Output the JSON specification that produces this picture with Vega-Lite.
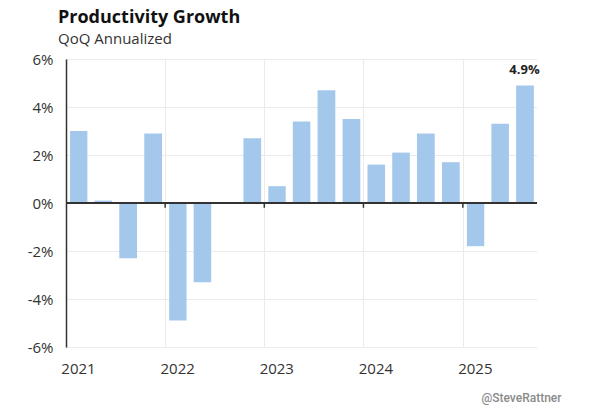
{
  "$schema": "https://vega.github.io/schema/vega-lite/v6.json",
  "width": 471,
  "height": 288,
  "autosize": {"type": "none"},
  "padding": {"left": 66, "top": 59, "right": 64, "bottom": 65},
  "background": "white",
  "title": {
    "text": "Productivity Growth",
    "subtitle": "QoQ Annualized",
    "anchor": "start",
    "frame": "group",
    "dx": -8,
    "offset": 5,
    "font": "Open Sans",
    "fontSize": 18,
    "fontWeight": "bold",
    "color": "#111111",
    "subtitleFont": "Open Sans",
    "subtitleFontSize": 15,
    "subtitleColor": "#333333",
    "subtitlePadding": 5
  },
  "config": {
    "view": {"stroke": null},
    "axis": {"labelFont": "Open Sans", "labelFontSize": 15, "labelColor": "#333333"}
  },
  "datasets": {
    "quarters": [
      {"date": "2021-02-15", "value": 3.0},
      {"date": "2021-05-15", "value": 0.1},
      {"date": "2021-08-15", "value": -2.3},
      {"date": "2021-11-15", "value": 2.9},
      {"date": "2022-02-15", "value": -4.9},
      {"date": "2022-05-15", "value": -3.3},
      {"date": "2022-08-15", "value": 0.0},
      {"date": "2022-11-15", "value": 2.7},
      {"date": "2023-02-15", "value": 0.7},
      {"date": "2023-05-15", "value": 3.4},
      {"date": "2023-08-15", "value": 4.7},
      {"date": "2023-11-15", "value": 3.5},
      {"date": "2024-02-15", "value": 1.6},
      {"date": "2024-05-15", "value": 2.1},
      {"date": "2024-08-15", "value": 2.9},
      {"date": "2024-11-15", "value": 1.7},
      {"date": "2025-02-15", "value": -1.8},
      {"date": "2025-05-15", "value": 3.3},
      {"date": "2025-08-15", "value": 4.9}
    ],
    "years": [
      {"date": "2022-02-15"},
      {"date": "2023-02-15"},
      {"date": "2024-02-15"},
      {"date": "2025-02-15"}
    ]
  },
  "data": {"name": "quarters"},
  "layer": [
    {
      "mark": {"type": "bar", "color": "#a3c8eb", "width": {"band": 0.75}},
      "encoding": {
        "x": {
          "field": "date",
          "type": "temporal",
          "timeUnit": "yearquarter",
          "bandPosition": 0.5,
          "scale": {"domain": [{"year": 2021, "month": 1, "date": 1}, {"year": 2025, "month": 10, "date": 1}]},
          "axis": {
            "format": "%Y",
            "tickCount": {"interval": "year", "step": 1},
            "grid": true,
            "gridColor": "#ebebeb",
            "domain": false,
            "ticks": false,
            "labelFlush": false,
            "labelAlign": "center",
            "labelOffset": 12,
            "labelPadding": 14,
            "title": "@SteveRattner",
            "titleFont": "Roboto",
            "titleFontSize": 12,
            "titleFontWeight": 500,
            "titleColor": "#8a8a8a",
            "titleX": 495,
            "titleY": 54,
            "titleAlign": "right",
            "titleBaseline": "alphabetic"
          }
        },
        "y": {
          "field": "value",
          "type": "quantitative",
          "scale": {"domain": [-6, 6], "nice": false},
          "axis": {
            "values": [-6, -4, -2, 0, 2, 4, 6],
            "labelExpr": "datum.value + '%'",
            "title": null,
            "grid": true,
            "gridColor": "#ebebeb",
            "ticks": false,
            "domain": true,
            "domainColor": "#333333",
            "domainWidth": 1.5,
            "labelPadding": 13
          }
        }
      }
    },
    {
      "mark": {"type": "text", "font": "Open Sans", "fontWeight": "bold", "fontSize": 13, "color": "#222222", "baseline": "bottom", "dy": -8},
      "transform": [
        {"filter": "datum.value == 4.9"},
        {"calculate": "format(datum.value, '.1f') + '%'", "as": "label"}
      ],
      "encoding": {
        "x": {"field": "date", "type": "temporal", "timeUnit": "yearquarter", "bandPosition": 0.5},
        "y": {"field": "value", "type": "quantitative"},
        "text": {"field": "label", "type": "nominal"}
      }
    },
    {
      "mark": {"type": "rule", "color": "#333333", "strokeWidth": 1.5},
      "encoding": {"y": {"datum": 0}}
    },
    {
      "data": {"name": "years"},
      "mark": {"type": "rule", "color": "#333333", "strokeWidth": 1.5},
      "encoding": {
        "x": {"field": "date", "type": "temporal", "timeUnit": "year", "bandPosition": 0},
        "y": {"datum": 0},
        "y2": {"datum": -0.2}
      }
    }
  ]
}
